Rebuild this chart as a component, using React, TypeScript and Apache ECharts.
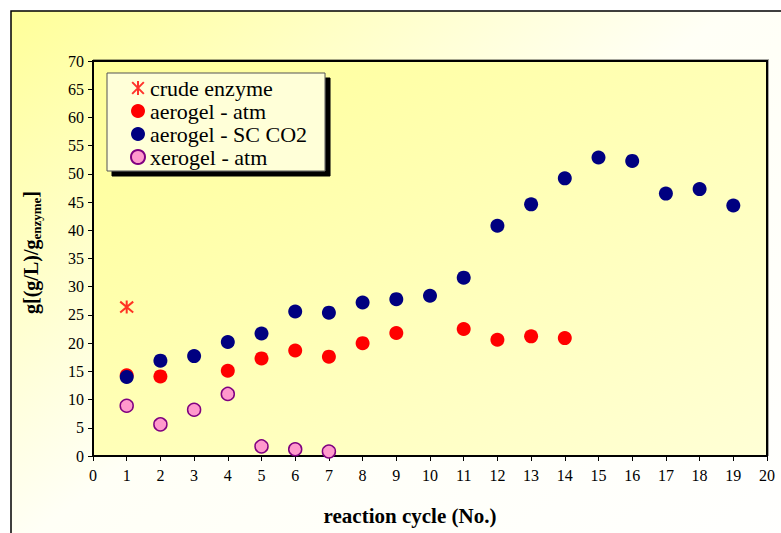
import React, { useEffect, useRef } from "react";
import * as echarts from "echarts";

const crudeX = [1];
const crudeY = [26.4];
const aeroAtmX = [1, 2, 4, 5, 6, 7, 8, 9, 11, 12, 13, 14];
const aeroAtmY = [14.3, 14.1, 15.1, 17.3, 18.7, 17.6, 20.0, 21.8, 22.5, 20.6, 21.2, 20.9];
const aeroScX = [1, 2, 3, 4, 5, 6, 7, 8, 9, 10, 11, 12, 13, 14, 15, 16, 17, 18, 19];
const aeroScY = [14.0, 16.9, 17.7, 20.2, 21.7, 25.6, 25.4, 27.2, 27.8, 28.4, 31.6, 40.8, 44.6, 49.2, 52.9, 52.3, 46.5, 47.3, 44.4];
const xeroX = [1, 2, 3, 4, 5, 6, 7];
const xeroY = [8.9, 5.6, 8.2, 11.0, 1.7, 1.2, 0.8];
const seriesNames = ["crude enzyme", "aerogel - atm", "aerogel - SC CO2", "xerogel - atm"];

const pair = (xs: number[], ys: number[]) => xs.map((x, i) => [x, ys[i]]);

const FONT = "Liberation Serif";

export default function App() {
  const ref = useRef<HTMLDivElement>(null);
  useEffect(() => {
    if (!ref.current) return;
    const chart = echarts.init(ref.current, undefined, { renderer: "svg" });
    chart.setOption({
      animation: false,
      backgroundColor: "#ffffff",
      textStyle: { fontFamily: FONT },
      graphic: [
        {
          type: "rect",
          z: -100,
          shape: { x: 11, y: 11, width: 800, height: 600 },
          style: {
            fill: new echarts.graphic.LinearGradient(0, 0, 1, 1, [
              { offset: 0, color: "#FFFF99" },
              { offset: 0.45, color: "#FFFFF6" },
              { offset: 1, color: "#FFFFFF" },
            ]),
            stroke: "#000",
            lineWidth: 1.5,
          },
        },
      ],
      grid: {
        left: 93,
        top: 61,
        right: 14,
        bottom: 77,
        show: true,
        borderColor: "#000",
        borderWidth: 2,
        backgroundColor: new echarts.graphic.LinearGradient(0, 0, 1, 1, [
          { offset: 0, color: "#FFFF99" },
          { offset: 1, color: "#FFFFD6" },
        ]),
        shadowColor: "rgba(0,0,0,0.35)",
        shadowOffsetX: 1,
        shadowOffsetY: -1,
        shadowBlur: 1,
      },
      legend: {
        orient: "vertical",
        left: 107,
        top: 73,
        padding: [4, 18, 3, 23],
        itemGap: 1,
        itemWidth: 14,
        itemHeight: 14,
        backgroundColor: "#FFFFD8",
        borderColor: "#555",
        borderWidth: 1,
        shadowColor: "#000",
        shadowOffsetX: 5,
        shadowOffsetY: 5,
        shadowBlur: 0,
        textStyle: { fontFamily: FONT, fontSize: 22, color: "#000", lineHeight: 20 },
        data: seriesNames,
      },
      xAxis: {
        type: "value",
        min: 0,
        max: 20,
        interval: 1,
        name: "reaction cycle (No.)",
        nameLocation: "middle",
        nameGap: 49,
        nameTextStyle: { fontFamily: FONT, fontSize: 21, fontWeight: "bold", color: "#000", padding: [0, 40, 0, 0] },
        axisLine: { show: true, onZero: false, lineStyle: { color: "#000", width: 1.5 } },
        axisTick: { show: true, inside: false, length: 5, lineStyle: { color: "#000" } },
        axisLabel: { fontFamily: FONT, fontSize: 16, color: "#000", margin: 11 },
        splitLine: { show: false },
      },
      yAxis: {
        type: "value",
        min: 0,
        max: 70,
        interval: 5,
        name: "{a|g[(g/L)/g}{b|enzyme}{a|]}",
        nameLocation: "middle",
        nameRotate: 90,
        nameGap: 50,
        nameTextStyle: {
          padding: [0, 0, 0, 12],
          rich: {
            a: { fontFamily: FONT, fontSize: 20, fontWeight: "bold", color: "#000", lineHeight: 24 },
            b: { fontFamily: FONT, fontSize: 13, fontWeight: "bold", color: "#000", lineHeight: 24, verticalAlign: "bottom", padding: [7, 0, 0, 0] },
          },
        },
        axisLine: { show: true, onZero: false, lineStyle: { color: "#000", width: 1.5 } },
        axisTick: { show: true, inside: false, length: 5, lineStyle: { color: "#000" } },
        axisLabel: { fontFamily: FONT, fontSize: 16, color: "#000", margin: 9 },
        splitLine: { show: false },
      },
      series: [
        {
          name: seriesNames[0],
          type: "scatter",
          data: pair(crudeX, crudeY),
          symbol: "path://M0,0L10,10M10,0L0,10M5,-1L5,11",
          symbolSize: 13,
          itemStyle: { color: "rgba(255,0,0,0)", borderColor: "#FF0000", borderWidth: 2 },
        },
        {
          name: seriesNames[1],
          type: "scatter",
          data: pair(aeroAtmX, aeroAtmY),
          symbol: "circle",
          symbolSize: 14,
          itemStyle: { color: "#FF0000", opacity: 1 },
        },
        {
          name: seriesNames[2],
          type: "scatter",
          data: pair(aeroScX, aeroScY),
          symbol: "circle",
          symbolSize: 14,
          itemStyle: { color: "#000080", opacity: 1 },
        },
        {
          name: seriesNames[3],
          type: "scatter",
          data: pair(xeroX, xeroY),
          symbol: "circle",
          symbolSize: 13,
          itemStyle: { color: "#FF99CC", borderColor: "#800080", borderWidth: 1.5, opacity: 1 },
        },
      ],
    });
    return () => chart.dispose();
  }, []);
  return <div ref={ref} style={{ position: "fixed", left: 0, top: 0, width: 781, height: 533 }} />;
}
